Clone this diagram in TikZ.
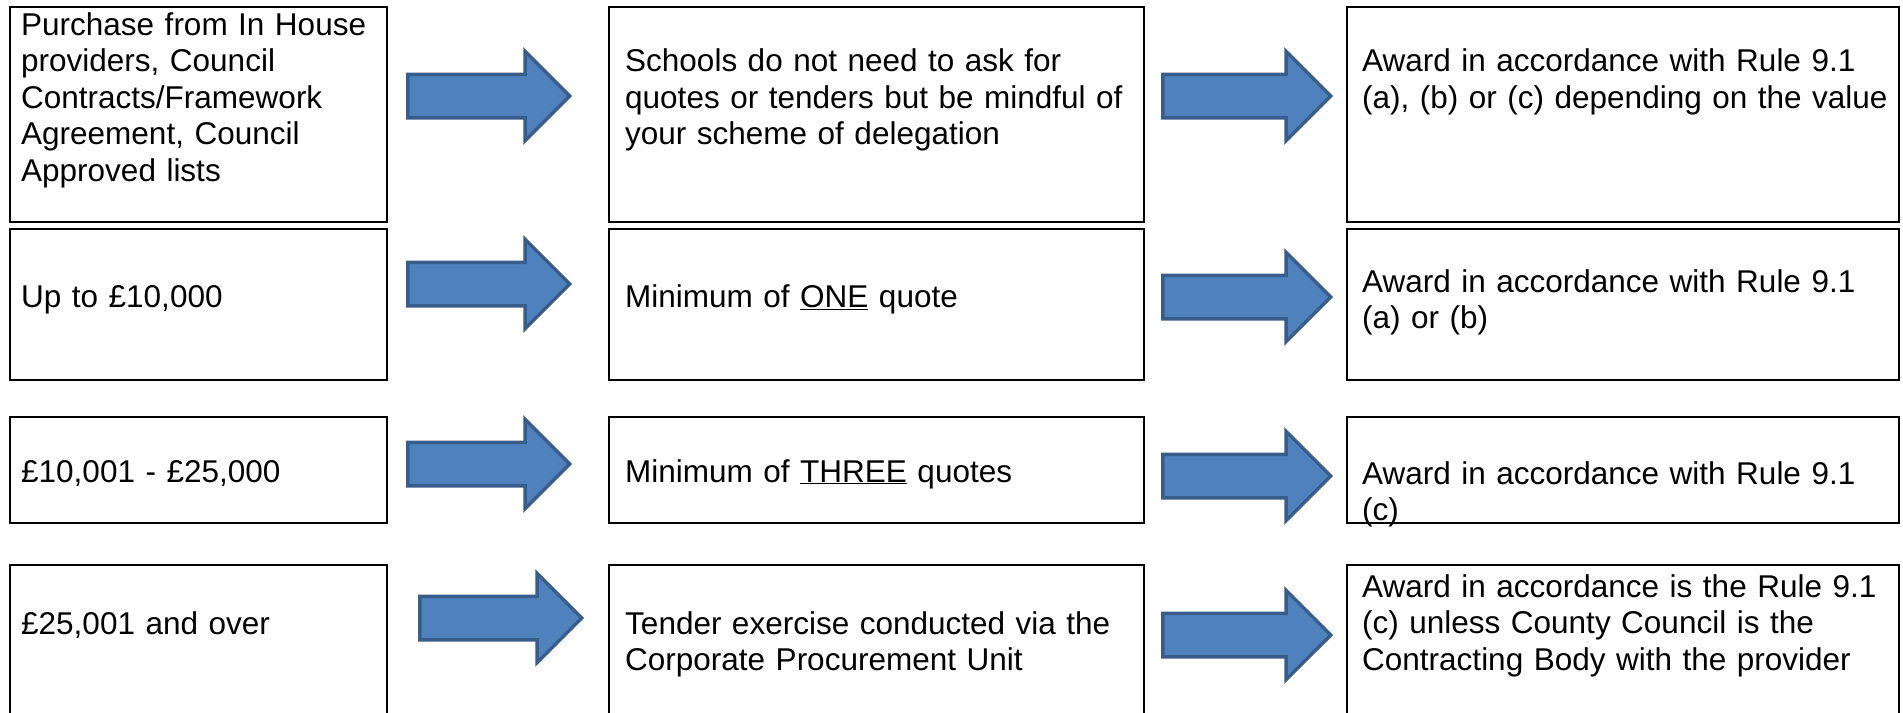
\documentclass[tikz,border=0pt]{standalone}
\usepackage{fontspec}
\setmainfont{Liberation Sans}
\usetikzlibrary{shapes.arrows}
\definecolor{arrowfill}{HTML}{4F81BD}
\definecolor{arrowedge}{HTML}{385D8A}
\begin{document}
\begin{tikzpicture}[x = 1pt, y = -1pt,
		box/.style = {draw, line width = 2.8pt, anchor = north west, inner sep = 0pt, outer sep = 0pt},
		words/.style = {anchor = base west, inner sep = 0pt, text width = 540pt, align = left, font = \fontsize{31.5}{36.5}\selectfont},
		bluearrow/.style = {single arrow, draw = arrowedge, fill = arrowfill, line width = 3.5pt, anchor = tail, inner xsep = 0pt, inner ysep = 20pt, single arrow head extend = 23pt, single arrow tip angle = 90}]
		\fill [white] (0,0) rectangle (1903,712);
		\useasboundingbox (0,0) rectangle (1903,712);
		% value bands
		\node [box, minimum width = 377pt, minimum height = 215pt] (val1) at (10,7) {};
		\node [box, minimum width = 377pt, minimum height = 151pt] (val2) at (10,229) {};
		\node [box, minimum width = 377pt, minimum height = 106pt] (val3) at (10,417) {};
		\node [box, minimum width = 377pt, minimum height = 170pt] (val4) at (10,565) {};
		% what the school has to do
		\node [box, minimum width = 535pt, minimum height = 215pt] (how1) at (609,7) {};
		\node [box, minimum width = 535pt, minimum height = 151pt] (how2) at (609,229) {};
		\node [box, minimum width = 535pt, minimum height = 106pt] (how3) at (609,417) {};
		\node [box, minimum width = 535pt, minimum height = 170pt] (how4) at (609,565) {};
		% award
		\node [box, minimum width = 552pt, minimum height = 215pt] (award1) at (1347,7) {};
		\node [box, minimum width = 552pt, minimum height = 151pt] (award2) at (1347,229) {};
		\node [box, minimum width = 552pt, minimum height = 106pt] (award3) at (1347,417) {};
		\node [box, minimum width = 552pt, minimum height = 170pt] (award4) at (1347,565) {};

		\node [words] (val1t) at (21,35) {Purchase from In House\\providers, Council\\Contracts/Framework\\Agreement, Council\\Approved lists};
		\node [words] (how1t) at (625,71.5) {Schools do not need to ask for\\quotes or tenders but be mindful of\\your scheme of delegation};
		\node [words] (award1t) at (1362,71.5) {Award in accordance with Rule 9.1\\(a), (b) or (c) depending on the value};
		\node [words] (val2t) at (21,307) {Up to £10,000};
		\node [words] (how2t) at (625,307) {Minimum of \underline{ONE} quote};
		\node [words] (award2t) at (1362,292) {Award in accordance with Rule 9.1\\(a) or (b)};
		\node [words] (val3t) at (21,482) {£10,001 - £25,000};
		\node [words] (how3t) at (625,482) {Minimum of \underline{THREE} quotes};
		\node [words] (award3t) at (1362,484) {Award in accordance with Rule 9.1\\(c)};
		\node [words] (val4t) at (21,634) {£25,001 and over};
		\node [words] (how4t) at (625,634) {Tender exercise conducted via the\\Corporate Procurement Unit};
		\node [words] (award4t) at (1362,597) {Award in accordance is the Rule 9.1\\(c) unless County Council is the\\Contracting Body with the provider};

		% block arrows between the columns
		\node [bluearrow, minimum height = 162pt] (go1) at (406,96) {};
		\node [bluearrow, minimum height = 162pt] (go2) at (406,284) {};
		\node [bluearrow, minimum height = 162pt] (go3) at (406,464) {};
		\node [bluearrow, minimum height = 162pt] (go4) at (418,618) {};
		\node [bluearrow, minimum height = 168pt] (then1) at (1161,96) {};
		\node [bluearrow, minimum height = 168pt] (then2) at (1161,297) {};
		\node [bluearrow, minimum height = 168pt] (then3) at (1161,476) {};
		\node [bluearrow, minimum height = 168pt] (then4) at (1161,635) {};
%		\draw [dashed] (val1) -- (how1);
\end{tikzpicture}
\end{document}
